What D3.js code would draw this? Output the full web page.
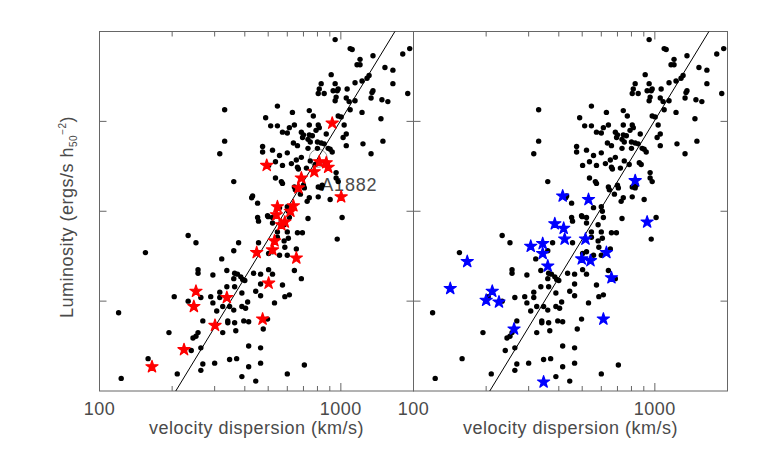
<!DOCTYPE html>
<html>
<head>
<meta charset="utf-8">
<script src="https://cdn.jsdelivr.net/npm/d3@7/dist/d3.min.js"></script>
<style>
  body { margin: 0; background: #fff; }
  text { font-family: "Liberation Sans", Arial, sans-serif; fill: #4a4a4a; }
</style>
</head>
<body>
<script>
// velocity dispersion (km/s) and log luminosity (erg/s) of the whole sample
var sigma = [947,1093,1114,1359,1805,1929,1201,1167,1201,1523,1643,912,1309,1284,829,947,1145,1224,1643,814,
  975,929,966,1062,1359,1346,806,853,956,1053,947,1082,1145,1334,1480,1566,1893,
  1093,546,630,740,769,488,975,1003,512,546,642,740,806,814,789,612,573,600,686,700,870,740,762,1032,1053,1022,694,
  747,731,800,829,853,636,661,1053,474,474,521,731,800,886,903,921,600,557,686,654,536,502,573,624,661,667,747,720,
  783,862,878,956,1224,1466,1235,1334,1494,
  536,567,573,642,648,700,706,806,829,837,956,975,680,740,725,806,903,497,500,452,456,521,521,557,600,606,612,582,
  731,1012,546,546,600,661,693,606,582,966,456,586,521,
  502,557,600,654,502,521,465,642,686,465,573,465,531,586,612,497,477,465,465,706,600,
  233,251,377,155,360,321,256,256,295,337,363,373,385,392,400,360,315,337,363,389,444,204,233,263,289,295,315,324,
  306,346,360,389,403,411,435,120,268,340,340,363,396,415,194,244,251,256,324,367,415,263,240,159,268,300,346,370,
  415,263,210,123,389,444,
  330,330,315,360,427,431,452];
var logL = [45.91,45.81,45.80,45.73,45.75,45.81,45.69,45.63,45.63,45.60,45.57,45.52,45.51,45.48,45.42,45.42,45.43,45.45,45.42,45.36,
  45.36,45.34,45.34,45.36,45.34,45.32,45.31,45.31,45.27,45.26,45.23,45.22,45.23,45.26,45.24,45.22,45.31,
  45.13,45.17,45.10,45.12,45.06,45.04,45.06,45.05,44.95,44.95,44.96,44.96,44.96,44.93,44.90,44.93,44.88,44.87,44.88,44.85,44.86,44.85,44.84,44.96,44.86,44.82,44.82,
  44.77,44.80,44.77,44.76,44.75,44.76,44.73,44.73,44.72,44.66,44.68,44.70,44.70,44.70,44.69,44.66,44.65,44.62,44.60,44.57,44.55,44.51,44.51,44.53,44.49,44.47,44.56,44.48,
  44.52,44.54,44.52,44.43,45.10,45.03,44.75,44.64,44.78,
  44.37,44.33,44.31,44.27,44.24,44.29,44.26,44.27,44.26,44.29,44.37,44.33,44.19,44.15,44.11,44.16,44.13,43.95,43.94,43.93,43.89,43.93,43.87,44.04,44.05,44.00,43.93,43.85,
  43.92,43.93,43.77,43.71,43.77,43.76,43.76,43.70,43.67,43.69,43.65,43.60,43.55,
  43.53,43.51,43.51,43.58,43.35,43.30,43.30,43.34,43.25,43.19,43.18,43.06,42.98,43.05,43.07,42.80,42.69,42.48,42.31,42.29,42.19,
  43.73,43.65,43.65,43.54,43.56,43.47,43.35,43.31,43.29,43.34,43.31,43.30,43.27,43.24,43.23,43.25,43.10,43.16,43.16,43.09,43.11,43.05,43.00,43.04,43.05,42.98,43.04,42.94,
  42.89,42.94,42.90,42.94,42.92,42.99,43.31,42.87,42.78,42.78,42.76,42.76,42.78,42.77,42.65,42.59,42.61,42.65,42.65,42.67,42.50,42.48,42.45,42.36,42.30,42.31,42.35,42.36,
  42.27,42.23,42.19,42.14,42.16,42.11,
  45.13,44.78,44.64,44.33,44.15,44.17,44.09];

// red stars (left panel)
var redSigma = [921,493,814,870,886,776,686,667,1003,546,636,618,541,586,567,531,521,448,654,502,251,246,337,474,301,224,165];
var redLogL = [44.98,44.51,44.55,44.54,44.49,44.44,44.37,44.26,44.16,44.05,44.06,44.00,43.96,43.88,43.85,43.67,43.57,43.54,43.48,43.20,43.11,42.94,43.04,42.80,42.73,42.46,42.27];

// blue stars (right panel)
var blueSigma = [829,415,531,385,419,929,423,516,306,343,343,360,498,541,630,661,167,142,212,200,226,612,261,346];
var blueLogL = [44.34,44.17,44.13,43.86,43.81,43.88,43.69,43.69,43.61,43.64,43.53,43.39,43.47,43.45,43.54,43.26,43.44,43.14,43.11,43.01,42.99,42.80,42.69,42.10];

// fitted relation, end points
var fitSigma = [207, 1675];
var fitLogL = [42, 46];

var majorTicks = [100, 1000];
var minorTicks = [200, 300, 400, 500, 600, 700, 800, 900];
var yTicks = [43, 44, 45];

var width = 758, height = 455;
var panelW = 314, panelH = 359.5;
var panelTop = 31.5;

var svg = d3.select("body").append("svg")
    .attr("width", width)
    .attr("height", height);

var x = d3.scaleLog().domain([100, 2000]).range([0, panelW]);
var y = d3.scaleLinear().domain([42, 46]).range([panelH, 0]);

var starPath = d3.symbol().type(d3.symbolStar).size(46);

var line = d3.line()
    .x(function(d) { return x(d[0]); })
    .y(function(d) { return y(d[1]); });

function drawPanel(left, starX, starY, color, note) {
  var g = svg.append("g").attr("transform", "translate(" + left + "," + panelTop + ")");

  // frame
  g.append("rect")
      .attr("width", panelW).attr("height", panelH)
      .attr("fill", "none").attr("stroke", "#666").attr("stroke-width", 1);

  // x ticks, bottom and top
  var ticks = majorTicks.map(function(t) { return [t, 8]; })
      .concat(minorTicks.map(function(t) { return [t, 5]; }));
  g.selectAll(".xt").data(ticks).enter().append("line")
      .attr("x1", function(d) { return x(d[0]); }).attr("x2", function(d) { return x(d[0]); })
      .attr("y1", panelH).attr("y2", function(d) { return panelH - d[1]; })
      .attr("stroke", "#666");
  g.selectAll(".xtt").data(ticks).enter().append("line")
      .attr("x1", function(d) { return x(d[0]); }).attr("x2", function(d) { return x(d[0]); })
      .attr("y1", 0).attr("y2", function(d) { return d[1]; })
      .attr("stroke", "#666");

  // y ticks, both sides, no labels
  g.selectAll(".yl").data(yTicks).enter().append("line")
      .attr("x1", 0).attr("x2", 7)
      .attr("y1", function(d) { return y(d); }).attr("y2", function(d) { return y(d); })
      .attr("stroke", "#666");
  g.selectAll(".yr").data(yTicks).enter().append("line")
      .attr("x1", panelW).attr("x2", panelW - 7)
      .attr("y1", function(d) { return y(d); }).attr("y2", function(d) { return y(d); })
      .attr("stroke", "#666");

  // tick labels
  g.selectAll(".lab").data(majorTicks).enter().append("text")
      .attr("x", function(d) { return x(d); })
      .attr("y", panelH + 24)
      .attr("text-anchor", "middle")
      .style("font-size", "18px")
      .style("letter-spacing", "0.5px")
      .text(function(d) { return d; });

  g.append("text")
      .attr("x", panelW / 2)
      .attr("y", panelH + 43)
      .attr("text-anchor", "middle")
      .style("font-size", "18px")
      .style("letter-spacing", "0.5px")
      .text("velocity dispersion (km/s)");

  if (note) {
    g.append("circle")
        .attr("cx", x(806)).attr("cy", y(44.59)).attr("r", 9)
        .attr("fill", "none").attr("stroke", "#777").attr("stroke-width", 0.8);
    g.append("text")
        .attr("x", x(830)).attr("y", y(44.23))
        .style("font-size", "18px")
        .style("letter-spacing", "0.8px")
        .text("A1882");
  }

  // all clusters
  g.selectAll(".dot").data(sigma).enter().append("circle")
      .attr("cx", function(d) { return x(d); })
      .attr("cy", function(d, i) { return y(logL[i]); })
      .attr("r", 2.7)
      .attr("fill", "#000");

  // fit
  g.append("path")
      .datum(d3.zip(fitSigma, fitLogL))
      .attr("d", line)
      .attr("fill", "none")
      .attr("stroke", "#000")
      .attr("stroke-width", 1);

  // highlighted subsample
  g.selectAll(".star").data(starX).enter().append("path")
      .attr("d", starPath)
      .attr("transform", function(d, i) { return "translate(" + x(d) + "," + y(starY[i]) + ")"; })
      .attr("fill", color)
      .attr("stroke", color)
      .attr("stroke-width", 1.2)
      .attr("stroke-linejoin", "round");
}

drawPanel(99.5, redSigma, redLogL, "#ff0000", true);
drawPanel(413.5, blueSigma, blueLogL, "#0000ff", false);

// y axis title
var yt = svg.append("text")
    .attr("transform", "translate(73,217)rotate(-90)")
    .attr("text-anchor", "middle")
    .style("font-size", "18px")
    .style("letter-spacing", "0.5px");
yt.append("tspan").text("Luminosity (ergs/s h");
yt.append("tspan").attr("dy", 4).style("font-size", "10px").text("50");
yt.append("tspan").attr("dy", -11).style("font-size", "10px").text("\u22122");
yt.append("tspan").attr("dy", 7).text(")");
</script>
</body>
</html>
